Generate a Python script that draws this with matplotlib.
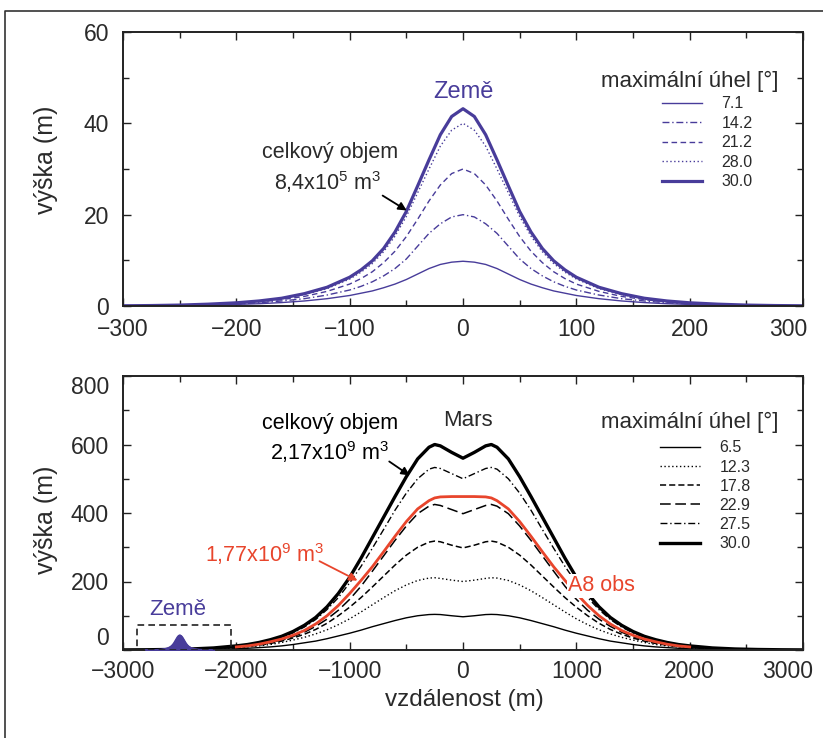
import numpy as np
import matplotlib
matplotlib.use("Agg")
import matplotlib.pyplot as plt
import matplotlib.transforms as mtrans
from matplotlib.lines import Line2D
from matplotlib.patches import Rectangle

plt.rcParams['font.family'] = ['Liberation Sans', 'DejaVu Sans']
plt.rcParams['mathtext.fontset'] = 'custom'
plt.rcParams['mathtext.rm'] = 'Liberation Sans'
plt.rcParams['mathtext.it'] = 'Liberation Sans:italic'

# --- Země (top panel): half profiles, x >= 0, mirrored below
ZEME_X_HALF = [0, 10, 20, 30, 40, 50, 60, 70, 80, 90, 100, 120, 140, 160, 180, 200, 225, 250, 275, 300]
ZEME_7_1 = [9.8, 9.6, 9.1, 8.2, 7.0, 5.8, 4.8, 4.0, 3.3, 2.8, 2.3, 1.6, 1.1, 0.75, 0.5, 0.35, 0.2, 0.1, 0.05, 0.02]
ZEME_14_2 = [20.0, 19.5, 18.0, 15.9, 13.1, 10.3, 8.2, 6.6, 5.3, 4.3, 3.5, 2.4, 1.6, 1.1, 0.7, 0.45, 0.25, 0.12, 0.06, 0.03]
ZEME_21_2 = [30.0, 29.0, 26.5, 23.0, 19.0, 15.2, 12.0, 9.5, 7.5, 6.0, 4.8, 3.2, 2.1, 1.4, 0.9, 0.55, 0.3, 0.15, 0.08, 0.03]
ZEME_28_0 = [40.0, 38.5, 35.0, 30.0, 24.8, 19.6, 15.3, 11.9, 9.3, 7.4, 5.9, 3.8, 2.5, 1.6, 1.0, 0.65, 0.35, 0.2, 0.1, 0.05]
ZEME_30_0 = [43.2, 41.5, 37.5, 32.0, 26.3, 20.7, 16.2, 12.6, 9.9, 7.9, 6.3, 4.1, 2.7, 1.7, 1.1, 0.7, 0.4, 0.2, 0.1, 0.05]
ZEME_LABELS = ['7.1', '14.2', '21.2', '28.0', '30.0']

# --- Mars (bottom panel)
MARS_X_HALF = [0, 100, 200, 250, 300, 400, 500, 600, 700, 800, 900, 1000, 1100, 1200, 1300,
               1400, 1500, 1600, 1700, 1800, 1900, 2000, 2200, 2400, 2600, 2800, 3000]
MARS_6_5 = [97, 100, 103.5, 104, 103.5, 100, 94, 86, 77, 68, 58, 49, 41, 33, 26, 21, 16, 12, 9, 7, 5, 3.8, 2, 1, 0.5, 0.2, 0.1]
MARS_12_3 = [200, 204, 209, 211, 210, 203, 190, 173, 153, 132, 111, 91, 74, 59, 47, 37, 29, 22, 16, 12, 9, 6.5, 3.3, 1.6, 0.7, 0.3, 0.1]
MARS_17_8 = [298, 306, 316, 318, 315, 300, 277, 248, 216, 184, 153, 125, 100, 78, 60, 46, 35, 26, 19, 14, 10, 7.5, 3.8, 1.8, 0.8, 0.3, 0.1]
MARS_22_9 = [398, 410, 422, 425, 420, 398, 362, 320, 275, 230, 186, 148, 116, 90, 69, 52, 39, 29, 22, 16, 12, 9, 4.5, 2.2, 1.0, 0.4, 0.15]
MARS_27_5 = [500, 515, 530, 533, 528, 500, 458, 408, 352, 297, 244, 196, 153, 118, 89, 67, 50, 37, 27, 20, 14, 10, 5, 2.5, 1.2, 0.5, 0.2]
MARS_30_0 = [560, 577, 596, 600, 592, 558, 506, 448, 388, 328, 268, 212, 165, 126, 95, 72, 54, 40, 30, 22, 16, 12, 6, 3, 1.5, 0.7, 0.3]
MARS_LABELS = ['6.5', '12.3', '17.8', '22.9', '27.5', '30.0']

A8_X_HALF = [0, 100, 200, 250, 300, 400, 500, 600, 700, 800, 900, 1000, 1100, 1200, 1300, 1400, 1500, 1600, 1700, 1800, 1900, 2000]
A8_OBS = [448, 448, 447, 444, 436, 412, 375, 332, 287, 243, 203, 165, 130, 100, 76, 57, 43, 32, 24, 17, 12, 9]

ZEME_OFFSET = -2500  # Earth profile drawn at scale inside the Mars panel


def mirror(xh, yh):
    xh = np.asarray(xh, float)
    yh = np.asarray(yh, float)
    return np.concatenate([-xh[:0:-1], xh]), np.concatenate([yh[:0:-1], yh])


BLUE = '#483c9a'
RED = '#e8452c'
TXT = '#2a2a2a'

fig = plt.figure(figsize=(8.23, 7.38), dpi=100)
ax1 = fig.add_axes([123 / 823, 1 - 306 / 738, 680 / 823, 274 / 738])
ax2 = fig.add_axes([123 / 823, 1 - 650 / 738, 680 / 823, 274 / 738])

# outer frame (top and left only)
fig.add_artist(Line2D([5 / 823, 5 / 823, 1], [0, 1 - 11 / 738, 1 - 11 / 738],
                      transform=fig.transFigure, color='#333333', lw=1.2))

# ---------------- top panel
zeme_styles = [dict(ls='-', lw=1.0), dict(ls=(0, (5, 2, 1, 2)), lw=1.0),
               dict(ls=(0, (4, 2.5)), lw=1.0), dict(ls=(0, (1, 1.8)), lw=1.0),
               dict(ls='-', lw=2.3)]
top_lines = []
for ys, lab, st in zip([ZEME_7_1, ZEME_14_2, ZEME_21_2, ZEME_28_0, ZEME_30_0], ZEME_LABELS, zeme_styles):
    x, y = mirror(ZEME_X_HALF, ys)
    ln, = ax1.plot(x, y, color=BLUE, label=lab, **st)
    top_lines.append(ln)

ax1.set_xlim(-300, 300)
ax1.set_ylim(0, 60)
ax1.set_xticks(np.arange(-300, 301, 100))
ax1.set_xticks(np.arange(-250, 300, 100), minor=True)
ax1.set_yticks(np.arange(0, 61, 20))
ax1.set_yticks(np.arange(10, 60, 20), minor=True)

ax1.text(0, 46.9, 'Země', color=BLUE, fontsize=17, ha='center', va='center')
ax1.text(-117, 33.7, 'celkový objem', color=TXT, fontsize=15.5, ha='center', va='center')
ax1.text(-119, 27.2, '8,4x10$^{5}$ m$^{3}$', color=TXT, fontsize=15.5, ha='center', va='center')
ax1.annotate('', xy=(-47.6, 20.6), xytext=(-73, 24.5),
             arrowprops=dict(arrowstyle='-|>', color='black', lw=1.3, mutation_scale=12))

ax1.text(0.834, 0.818, 'maximální úhel [°]', transform=ax1.transAxes, fontsize=16,
         color=TXT, ha='center', va='center')
ax1.legend(handles=top_lines, loc='upper left', bbox_to_anchor=(0.793, 0.765), frameon=False,
           fontsize=11.5, handlelength=2.5, handletextpad=1.2, labelspacing=0.28,
           borderpad=0, borderaxespad=0, labelcolor=TXT)

# ---------------- bottom panel
mars_styles = [dict(ls='-', lw=1.0), dict(ls=(0, (1, 1.8)), lw=1.0),
               dict(ls=(0, (4, 2)), lw=1.1), dict(ls=(0, (7, 3)), lw=1.1),
               dict(ls=(0, (5, 2, 1, 2)), lw=1.0), dict(ls='-', lw=2.4)]
mars_data = [MARS_6_5, MARS_12_3, MARS_17_8, MARS_22_9, MARS_27_5, MARS_30_0]

xr, yr = mirror(A8_X_HALF, A8_OBS)
ax2.plot(xr, yr, color=RED, lw=2.0, zorder=2.5)

bot_lines = []
for ys, lab, st in zip(mars_data, MARS_LABELS, mars_styles):
    x, y = mirror(MARS_X_HALF, ys)
    ln, = ax2.plot(x, y, color='black', label=lab, **st)
    bot_lines.append(ln)

xz, yz = mirror(ZEME_X_HALF, ZEME_30_0)
ax2.fill_between(xz + ZEME_OFFSET, yz, 0, color=BLUE, lw=1.5, zorder=3)
ax2.plot(xz + ZEME_OFFSET, yz, color=BLUE, lw=1.2, zorder=3)
ax2.add_patch(Rectangle((-2880, 0), 833, 73, fill=False, ls=(0, (4, 2.5)), lw=1.2,
                        ec='#222222', zorder=3))

ax2.set_xlim(-3000, 3000)
ax2.set_ylim(0, 800)
ax2.set_xticks(np.arange(-3000, 3001, 1000))
ax2.set_xticks(np.arange(-2500, 3000, 1000), minor=True)
ax2.set_yticks(np.arange(0, 801, 200))
ax2.set_yticks(np.arange(100, 800, 200), minor=True)

ax2.text(-2515, 117, 'Země', color=BLUE, fontsize=16, ha='center', va='center')
ax2.text(44, 669, 'Mars', color=TXT, fontsize=16, ha='center', va='center')
ax2.text(-1174, 660, 'celkový objem', color='black', fontsize=15.5, ha='center', va='center')
ax2.text(-1174, 578, '2,17x10$^{9}$ m$^{3}$', color='black', fontsize=15.5, ha='center', va='center')
ax2.annotate('', xy=(-450, 505), xytext=(-671, 555),
             arrowprops=dict(arrowstyle='-|>', color='black', lw=1.3, mutation_scale=12))
ax2.text(-1747, 280, '1,77x10$^{9}$ m$^{3}$', color=RED, fontsize=15.5, ha='center', va='center')
ax2.annotate('', xy=(-909, 199), xytext=(-1288, 263),
             arrowprops=dict(arrowstyle='-|>', color=RED, lw=1.3, mutation_scale=12))
ax2.text(930, 187, 'A8 obs', color=RED, fontsize=15.5, ha='left', va='center', zorder=4,
         bbox=dict(boxstyle='square,pad=0.05', fc='white', ec='none'))

ax2.text(0.834, 0.832, 'maximální úhel [°]', transform=ax2.transAxes, fontsize=16,
         color=TXT, ha='center', va='center')
ax2.legend(handles=bot_lines, loc='upper left', bbox_to_anchor=(0.790, 0.765), frameon=False,
           fontsize=11.5, handlelength=2.5, handletextpad=1.2, labelspacing=0.26,
           borderpad=0, borderaxespad=0, labelcolor=TXT)

# ---------------- shared axis styling
for ax, xpad in ((ax1, 8.5), (ax2, 7)):
    ax.tick_params(which='both', direction='in', top=True, right=True, width=1.0, color='#222222')
    ax.tick_params(which='major', length=6)
    ax.tick_params(which='minor', length=4)
    ax.tick_params(axis='x', which='major', pad=xpad, labelsize=16.5, labelcolor=TXT)
    ax.tick_params(axis='y', which='major', pad=10, labelsize=16.5, labelcolor=TXT)
    for s in ax.spines.values():
        s.set_linewidth(1.4)
        s.set_color('#222222')
    # last x label sits a little inside the frame
    xt = ax.xaxis.get_major_ticks()
    xt[-1].label1.set_transform(xt[-1].label1.get_transform() +
                                mtrans.ScaledTranslation(-15 / 100, 0, fig.dpi_scale_trans))

# gnuplot-style shifted labels on the Mars y axis
yt = ax2.yaxis.get_major_ticks()
yt[0].label1.set_transform(yt[0].label1.get_transform() +
                           mtrans.ScaledTranslation(0, 14 / 100, fig.dpi_scale_trans))
yt[-1].label1.set_transform(yt[-1].label1.get_transform() +
                            mtrans.ScaledTranslation(0, -9 / 100, fig.dpi_scale_trans))

fig.text(46 / 823, 1 - 160 / 738, 'výška (m)', rotation=90, fontsize=18, color=TXT,
         ha='center', va='center')
fig.text(46 / 823, 1 - 520 / 738, 'výška (m)', rotation=90, fontsize=18, color=TXT,
         ha='center', va='center')
fig.text(464 / 823, 1 - 700 / 738, 'vzdálenost (m)', fontsize=17.5, color=TXT,
         ha='center', va='center')

fig.savefig('out.png', dpi=100)
